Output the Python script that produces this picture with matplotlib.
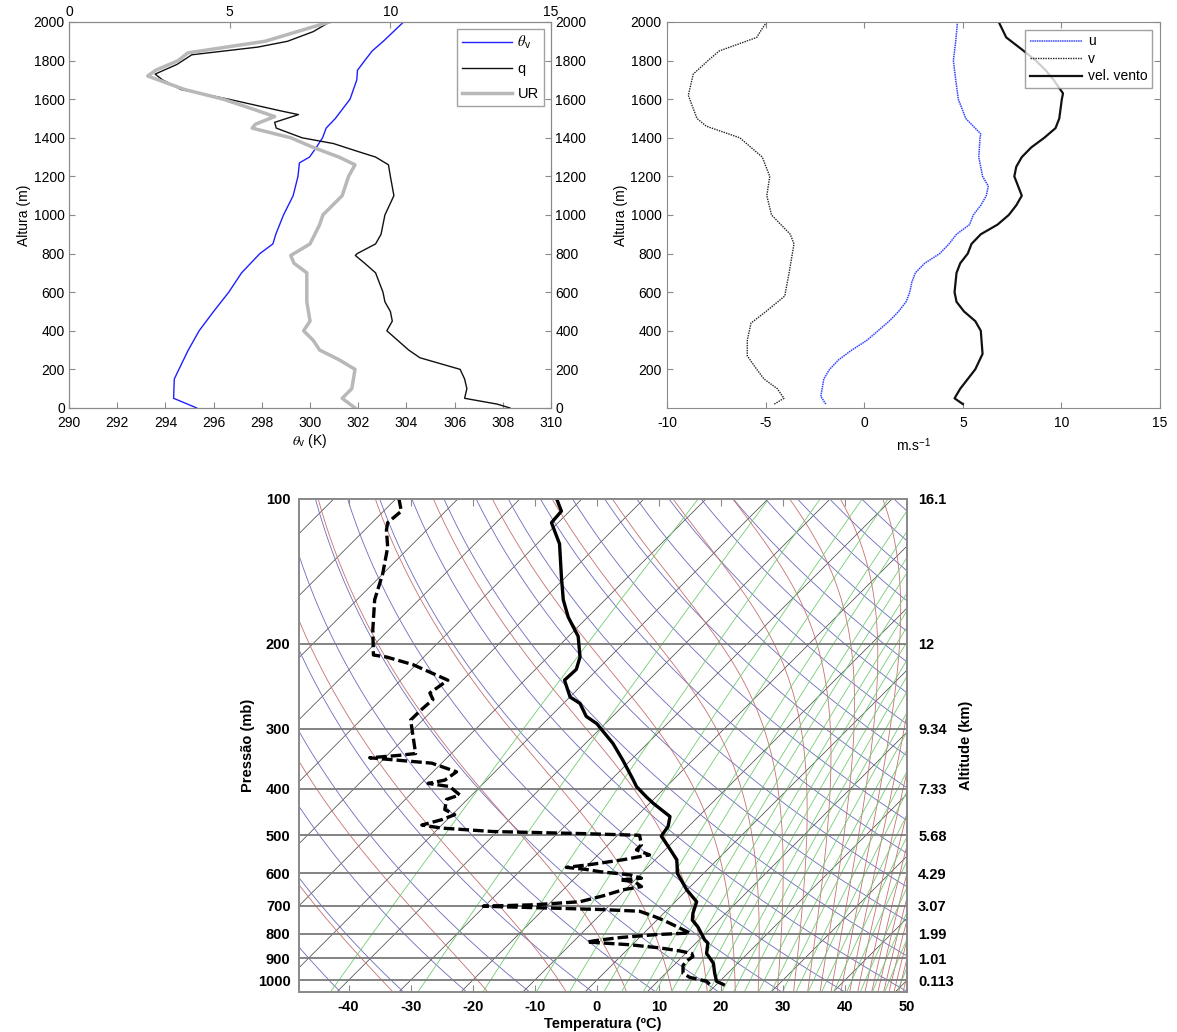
import numpy as np
import matplotlib.pyplot as plt

plt.rcParams['font.family'] = ['Liberation Sans', 'DejaVu Sans']
plt.rcParams['mathtext.fontset'] = 'stix'
plt.rcParams['axes.unicode_minus'] = False

# ---- perfil termodinamico (0-2000 m) ----
h_thv = [0, 50, 150, 200, 300, 400, 500, 600, 700, 800, 850, 900, 1000, 1100, 1200, 1270,
         1300, 1350, 1400, 1450, 1500, 1600, 1700, 1750, 1800, 1850, 1900, 2000]
thv = [295.3, 294.34, 294.37, 294.56, 294.95, 295.4, 296.0, 296.63, 297.16, 297.92, 298.46,
       298.58, 298.9, 299.3, 299.5, 299.56, 299.98, 300.26, 300.52, 300.67, 301.05, 301.66,
       301.94, 301.97, 302.27, 302.58, 303.04, 303.88]

h_q = [0, 20, 50, 100, 150, 200, 260, 300, 350, 400, 450, 500, 550, 600, 700, 750, 790, 800,
       850, 900, 1000, 1100, 1200, 1260, 1300, 1330, 1370, 1400, 1450, 1480, 1520, 1540, 1600,
       1650, 1700, 1730, 1780, 1830, 1870, 1900, 1950, 2000]
q = [13.72, 13.32, 12.31, 12.38, 12.31, 12.17, 10.92, 10.57, 10.23, 9.89, 10.06, 10.0, 9.83,
     9.77, 9.54, 9.2, 8.91, 8.97, 9.54, 9.71, 9.83, 10.11, 10.0, 9.94, 9.54, 8.97, 8.23, 7.25,
     6.45, 6.4, 7.14, 6.57, 4.97, 3.48, 2.91, 2.68, 3.36, 3.82, 5.88, 6.8, 7.6, 8.11]

h_ur = [0, 50, 100, 200, 250, 300, 350, 400, 450, 550, 700, 750, 790, 850, 950, 1000, 1100,
        1200, 1260, 1300, 1350, 1400, 1450, 1470, 1510, 1550, 1600, 1650, 1720, 1750, 1800,
        1840, 1900, 1950, 2000]
ur = [89, 85, 88, 89, 84, 78, 76, 73, 75, 74, 74, 70, 69, 75, 78, 79, 85, 87, 89, 84, 76,
      69, 57, 58, 64, 57, 48, 36, 24.5, 27, 34, 37, 61, 71, 81]

# ---- vento (0-2000 m) ----
h_u = [20, 60, 150, 200, 250, 300, 350, 400, 450, 500, 550, 600, 650, 700, 750, 800, 850, 900,
       950, 1000, 1050, 1100, 1150, 1200, 1300, 1400, 1420, 1500, 1600, 1700, 1800, 1900, 2000]
u = [-1.95, -2.2, -2.05, -1.76, -1.29, -0.63, 0.13, 0.70, 1.27, 1.74, 2.12, 2.31, 2.41, 2.59,
     3.07, 3.83, 4.30, 4.68, 5.34, 5.53, 5.91, 6.19, 6.29, 6.0, 5.81, 5.87, 5.91, 5.15, 4.77,
     4.64, 4.52, 4.64, 4.73]

h_v = [20, 50, 100, 150, 200, 270, 350, 440, 500, 580, 700, 850, 900, 1000, 1100, 1200, 1300,
       1400, 1460, 1500, 1620, 1730, 1800, 1850, 1920, 1960, 2000]
v = [-4.56, -4.07, -4.41, -5.08, -5.45, -5.93, -5.93, -5.74, -4.98, -4.03, -3.81, -3.56, -3.75,
     -4.70, -4.94, -4.79, -5.17, -6.31, -8.01, -8.48, -8.92, -8.67, -7.92, -7.35, -5.45, -5.21,
     -4.94]

h_vel = [20, 50, 100, 200, 280, 400, 450, 500, 550, 600, 700, 750, 800, 850, 900, 950, 1000,
         1050, 1100, 1150, 1200, 1250, 1300, 1350, 1400, 1450, 1500, 1600, 1630, 1700, 1750,
         1800, 1850, 1920, 2000]
vel = [5.0, 4.58, 4.87, 5.63, 6.0, 5.91, 5.63, 5.06, 4.68, 4.58, 4.68, 4.87, 5.25, 5.44, 5.91,
       6.76, 7.33, 7.71, 7.99, 7.80, 7.61, 7.71, 7.99, 8.47, 9.13, 9.70, 9.89, 10.02, 10.08,
       9.6, 9.2, 8.7, 8.09, 7.2, 6.82]

# ---- radiossondagem (posicao no eixo de temperatura do skew-T) ----
p_temp = [99.7, 106, 112, 124, 145, 162, 176, 193, 213, 226, 238, 258, 266, 283, 293, 322, 349,
          384, 396, 416, 429, 457, 479, 502, 527, 562, 600, 649, 687, 726, 750, 775, 825, 837,
          880, 922, 967, 1005, 1021]
temp = [-6.5, -5.7, -7.3, -6.0, -5.7, -5.4, -4.6, -3.0, -2.7, -3.3, -5.2, -4.3, -2.7, -1.7, 0.0,
        2.6, 4.2, 5.9, 6.4, 8.0, 9.1, 11.8, 11.5, 10.4, 11.5, 12.9, 13.0, 14.5, 16.1, 15.5, 15.4,
        16.3, 17.4, 17.9, 17.7, 18.8, 19.0, 19.3, 20.4]

p_dew = [99.7, 106, 112, 116, 126, 143, 162, 187, 211, 213, 221, 238, 253, 261, 275, 288, 338,
         341, 345, 354, 369, 384, 390, 396, 412, 421, 442, 453, 464, 476, 483, 491, 496, 500,
         523, 536, 549, 562, 575, 583, 588, 595, 604, 614, 619, 624, 639, 649, 668, 687, 697,
         702, 708, 713, 719, 735, 750, 775, 798, 804, 815, 825, 833, 844, 857, 870, 880, 893,
         912, 932, 967, 987, 1005, 1021]
dew = [-31.9, -31.5, -33.7, -33.9, -33.7, -34.5, -35.8, -36.1, -36.0, -33.9, -29.6, -24.0,
       -26.9, -26.4, -28.4, -30.0, -29.2, -31.8, -36.6, -26.6, -22.6, -24.5, -27.2, -23.7,
       -22.1, -24.2, -24.5, -22.9, -25.0, -28.2, -25.0, -16.8, -2.0, 6.9, 7.2, 6.4, 8.5, 4.2,
       -1.0, -4.9, -2.0, 0.5, 5.3, 7.2, 3.7, 6.1, 7.2, 4.2, 1.0, -2.7, -10.0, -18.3, -8.0, 0.5,
       6.9, 9.0, 10.7, 13.0, 15.0, 9.6, 4.0, 0.5, -1.6, 5.3, 10.2, 13.5, 15.3, 15.5, 14.5,
       13.9, 13.9, 15.0, 17.7, 18.2]

p_levels = [100, 200, 300, 400, 500, 600, 700, 800, 900, 1000]
alt_labels = ['16.1', '12', '9.34', '7.33', '5.68', '4.29', '3.07', '1.99', '1.01', '0.113']

# linhas de fundo do diagrama
r_lines = [0.1, 0.4, 1, 2, 3, 4.5, 5.5, 7, 8, 9.5, 11, 12.5, 14, 16, 18, 20, 23, 26, 29, 33,
           37, 42, 47, 53, 60, 67, 75, 84, 94]

K_SKEW = 33.7
P_BOT, P_TOP = 1058, 100


def skew_x(t_c, p):
    return t_c + K_SKEW * np.log(1000.0 / p)


def sat_mix(t_k, p):
    es = 6.112 * np.exp(17.67 * (t_k - 273.15) / (t_k - 29.65))
    return 0.622 * es / (p - es)


def theta_e(t_k, p):
    return t_k * (1000.0 / p) ** 0.2857 * np.exp(2.5e6 * sat_mix(t_k, p) / (1005.0 * t_k))


def moist_adiabat(t0_k, p):
    t = np.empty_like(p)
    t[0] = t0_k

    def slope(tk, pp):
        rs = sat_mix(tk, pp)
        return (287.0 * tk + 2.5e6 * rs) / (pp * (1005.0 + 2.5e6 ** 2 * rs * 0.622 / (287.0 * tk ** 2)))

    for i in range(1, len(p)):
        dp = p[i] - p[i - 1]
        k1 = slope(t[i - 1], p[i - 1])
        k2 = slope(t[i - 1] + k1 * dp, p[i])
        t[i] = t[i - 1] + 0.5 * (k1 + k2) * dp
    return t


fig = plt.figure(figsize=(11.77, 10.32), dpi=100)
frame = '#8a8a8a'

# ================= painel 1: theta_v, q, UR =================
ax1 = fig.add_axes([0.0586, 0.6047, 0.4096, 0.374])
l1, = ax1.plot(thv, h_thv, color='#1f1fff', lw=1.0)
ax1.set_xlim(290, 310)
ax1.set_ylim(0, 2000)
ax1.set_xticks(np.arange(290, 311, 2))
ax1.set_yticks(np.arange(0, 2001, 200))
ax1.set_xlabel(r'$\theta_\mathregular{v}$ (K)', fontsize=10, labelpad=1)
ax1.set_ylabel('Altura (m)', fontsize=10, labelpad=2)
ax1.tick_params(direction='in', top=True, right=True, labelright=True, labelsize=10,
                length=4, color=frame, pad=3)
ax1.tick_params(axis='x', pad=6)

ax1b = ax1.twiny()
l2, = ax1b.plot(q, h_q, color='#111111', lw=1.0)
l3, = ax1b.plot(np.array(ur) / 10.0, h_ur, color='#b8b8b8', lw=2.5)
ax1b.set_xlim(0, 15)
ax1b.set_xticks([0, 5, 10, 15])
ax1b.tick_params(direction='in', labelsize=10, length=4, color=frame, pad=2)
for a in (ax1, ax1b):
    for s in a.spines.values():
        s.set_color(frame)
leg = ax1b.legend([l1, l2, l3], [r'$\theta_\mathregular{v}$', 'q', 'UR'], loc='upper right',
                  fancybox=False, edgecolor=frame, fontsize=10.5, handlelength=3.4,
                  borderaxespad=0.5, labelspacing=0.75, borderpad=0.35, handletextpad=0.4)
leg.get_frame().set_linewidth(1.0)

# ================= painel 2: componentes do vento =================
ax2 = fig.add_axes([0.5667, 0.6047, 0.4189, 0.374])
ax2.plot(u, h_u, color='#3344ff', lw=1.1, ls=(0, (1, 0.5)), label='u')
ax2.plot(v, h_v, color='#222222', lw=1.0, ls=(0, (1, 0.8)), label='v')
ax2.plot(vel, h_vel, color='#111111', lw=1.6, label='vel. vento')
ax2.set_xlim(-10, 15)
ax2.set_ylim(0, 2000)
ax2.set_xticks(np.arange(-10, 16, 5))
ax2.set_yticks(np.arange(200, 2001, 200))
ax2.set_xlabel(r'm.s$^\mathregular{-1}$', fontsize=10, labelpad=4)
ax2.set_ylabel('Altura (m)', fontsize=10, labelpad=2)
ax2.tick_params(direction='in', top=True, right=True, labelsize=10, length=4, color=frame, pad=4)
ax2.tick_params(axis='x', pad=6)
for s in ax2.spines.values():
    s.set_color(frame)
leg2 = ax2.legend(loc='upper right', fancybox=False, edgecolor=frame, fontsize=10,
                  handlelength=3.8, borderaxespad=0.6, labelspacing=0.25, borderpad=0.3,
                  handletextpad=0.4)
leg2.get_frame().set_linewidth(1.0)

# ================= painel 3: diagrama skew-T =================
ax3 = fig.add_axes([0.254, 0.0388, 0.5166, 0.4777])
ax3.set_yscale('log')
ax3.set_xlim(-48, 50)
ax3.set_ylim(P_BOT, P_TOP)
pp = np.geomspace(1065, 98, 240)

# isotermas
for t in np.arange(-170, 60, 10):
    ax3.plot(skew_x(t, pp), pp, color='#4d4d4d', lw=0.55, zorder=1)
# adiabaticas secas
for th in np.arange(200, 520, 10):
    ax3.plot(skew_x(th * (pp / 1000.0) ** 0.2857 - 273.15, pp), pp, color='#6b6bbd', lw=0.6,
             zorder=1)
# adiabaticas umidas (espacamento constante em theta_e)
t_grid = np.linspace(200, 335, 3000)
te_grid = theta_e(t_grid, pp[0])
for te in np.arange(205, 660, 17):
    t0 = np.interp(te, te_grid, t_grid)
    ax3.plot(skew_x(moist_adiabat(t0, pp) - 273.15, pp), pp, color='#c77070', lw=0.6, zorder=1)
# razao de mistura
for r in r_lines:
    e = pp * r / (622.0 + r)
    lg = np.log(e / 6.112)
    td = 243.5 * lg / (17.67 - lg)
    ax3.plot(skew_x(td, pp), pp, color='#74cc74', lw=0.6, zorder=1)

for p in p_levels[1:]:
    ax3.axhline(p, color='#7a7a7a', lw=1.3, zorder=2)

ax3.plot(dew, p_dew, color='black', lw=2.4, ls=(0, (3.2, 1.2)), zorder=4)
ax3.plot(temp, p_temp, color='black', lw=2.4, zorder=4)

ax3.set_yticks(p_levels)
ax3.set_yticklabels([str(p) for p in p_levels])
ax3.yaxis.set_minor_locator(plt.NullLocator())
ax3.set_xticks(np.arange(-40, 51, 10))
ax3.tick_params(axis='x', direction='in', top=True, length=5, color=frame, labelsize=10.5, pad=6)
ax3.tick_params(axis='y', length=0, labelsize=10.5, pad=6)
for lab in ax3.get_xticklabels() + ax3.get_yticklabels():
    lab.set_fontweight('bold')
ax3.set_xlabel('Temperatura (ºC)', fontsize=10.5, fontweight='bold', labelpad=2)
ax3.set_ylabel('Pressão (mb)', fontsize=10.5, fontweight='bold', labelpad=2)

ax3r = ax3.twinx()
ax3r.set_yscale('log')
ax3r.set_ylim(P_BOT, P_TOP)
ax3r.set_yticks(p_levels)
ax3r.set_yticklabels(alt_labels)
ax3r.yaxis.set_minor_locator(plt.NullLocator())
ax3r.tick_params(axis='y', length=0, labelsize=10.5, pad=8)
for lab in ax3r.get_yticklabels():
    lab.set_fontweight('bold')
ax3r.set_ylabel('Altitude (km)', fontsize=10.5, fontweight='bold', labelpad=4)
for a in (ax3, ax3r):
    for s in a.spines.values():
        s.set_color(frame)
        s.set_linewidth(1.3)

fig.savefig('out.png', dpi=100)
